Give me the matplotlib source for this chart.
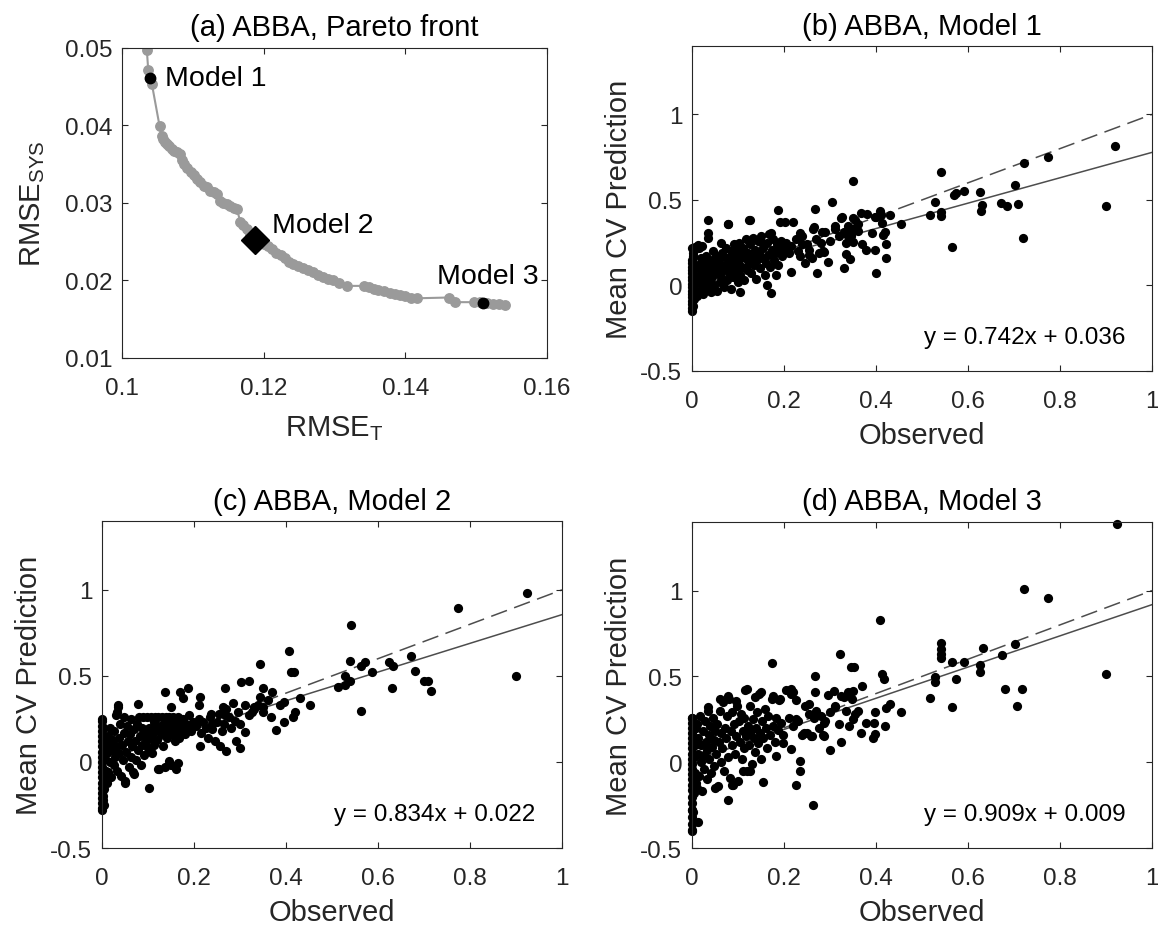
import matplotlib
matplotlib.use("Agg")
import matplotlib.pyplot as plt
import numpy as np

plt.rcParams.update({
    "font.family": ["Liberation Sans", "DejaVu Sans"],
    "mathtext.fontset": "custom",
    "mathtext.rm": "Liberation Sans",
    "mathtext.it": "Liberation Sans:italic",
    "mathtext.bf": "Liberation Sans:bold",
})

# ---------------- data ----------------
# (a) Pareto front
rmse_t = [0.1035, 0.1037, 0.1040, 0.1042, 0.1053, 0.1056, 0.1058, 0.1061, 0.1063,
          0.1066, 0.1070, 0.1074, 0.1078, 0.1082, 0.1085, 0.1087, 0.1092, 0.1098,
          0.1102, 0.1106, 0.1110, 0.1115, 0.1120, 0.1124, 0.1130, 0.1134, 0.1138,
          0.1143, 0.1148, 0.1153, 0.1158, 0.1162, 0.1167, 0.1171, 0.1176, 0.1181,
          0.1188, 0.1194, 0.1200, 0.1206, 0.1212, 0.1218, 0.1224, 0.1230, 0.1236,
          0.1242, 0.1249, 0.1256, 0.1263, 0.1270, 0.1277, 0.1284, 0.1291, 0.1298,
          0.1306, 0.1317, 0.1342, 0.1348, 0.1356, 0.1362, 0.1370, 0.1378, 0.1386,
          0.1393, 0.1400, 0.1408, 0.1416, 0.1461, 0.1470, 0.1497, 0.1505, 0.1515,
          0.1524, 0.1532, 0.1541]
rmse_sys = [0.0497, 0.0471, 0.0461, 0.0454, 0.0399, 0.0386, 0.0383, 0.0379, 0.0376,
            0.0373, 0.0370, 0.0367, 0.0366, 0.0363, 0.0355, 0.0350, 0.0345, 0.0340,
            0.0336, 0.0331, 0.0327, 0.0322, 0.0320, 0.0316, 0.0314, 0.0311, 0.0303,
            0.0300, 0.0299, 0.0296, 0.0294, 0.0292, 0.0276, 0.0271, 0.0266, 0.0259,
            0.0252, 0.0250, 0.0247, 0.0245, 0.0240, 0.0236, 0.0233, 0.0229, 0.0224,
            0.0221, 0.0219, 0.0216, 0.0214, 0.0211, 0.0207, 0.0204, 0.0202, 0.0200,
            0.0197, 0.0193, 0.0193, 0.0191, 0.0189, 0.0188, 0.0186, 0.0184, 0.0183,
            0.0181, 0.0180, 0.0178, 0.0177, 0.0178, 0.0172, 0.0172, 0.0172, 0.0171,
            0.0170, 0.0169, 0.0168]
model_names = ["Model 1", "Model 2", "Model 3"]
model_t = [0.1040, 0.1188, 0.1510]
model_sys = [0.0461, 0.0252, 0.0171]

# (b)-(d) fits
slopes = [0.742, 0.834, 0.909]
intercepts = [0.036, 0.022, 0.009]
titles = ["(b) ABBA, Model 1", "(c) ABBA, Model 2", "(d) ABBA, Model 3"]

# (b) Model 1: observed vs mean CV prediction
outer_b = [(0.92, 0.814), (0.90, 0.467), (0.774, 0.749), (0.722, 0.716), (0.703, 0.588),
           (0.708, 0.476), (0.720, 0.280), (0.671, 0.480), (0.684, 0.467), (0.626, 0.545),
           (0.631, 0.471), (0.629, 0.437), (0.591, 0.553), (0.569, 0.529), (0.575, 0.539),
           (0.566, 0.225), (0.542, 0.663), (0.529, 0.490), (0.518, 0.412), (0.542, 0.431),
           (0.542, 0.408), (0.454, 0.357), (0.431, 0.412), (0.409, 0.437), (0.397, 0.402),
           (0.415, 0.294), (0.421, 0.245), (0.421, 0.161), (0.399, 0.075), (0.397, 0.206),
           (0.379, 0.206), (0.391, 0.304), (0.413, 0.363), (0.349, 0.608), (0.367, 0.422),
           (0.351, 0.392), (0.347, 0.314), (0.351, 0.255), (0.343, 0.157), (0.331, 0.102),
           (0.335, 0.186), (0.323, 0.392), (0.311, 0.333), (0.305, 0.486), (0.268, 0.445),
           (0.263, 0.333), (0.282, 0.314), (0.287, 0.196), (0.271, 0.075), (0.255, 0.176),
           (0.239, 0.245), (0.235, 0.304), (0.215, 0.078), (0.203, 0.373), (0.191, 0.373),
           (0.188, 0.441), (0.183, 0.059), (0.171, -0.043), (0.163, 0.0), (0.171, 0.304),
           (0.151, 0.255), (0.123, 0.382), (0.034, 0.382), (0.079, 0.357), (0.034, 0.304),
           (0.0, 0.22), (0.006, 0.225), (0.014, 0.235), (0.104, -0.039), (0.35, 0.33),
           (0.36, 0.36), (0.34, 0.29), (0.40, 0.40), (0.41, 0.41), (0.42, 0.31),
           (0.37, 0.24), (0.38, 0.42)]
core_b = [(0, -0.15), (0, -0.13), (0, -0.11), (0, -0.09), (0, -0.07), (0, -0.05), (0, -0.03),
          (0, -0.01), (0, 0.01), (0, 0.03), (0, 0.05), (0, 0.07), (0, 0.09), (0, 0.11),
          (0, 0.13), (0, 0.15), (0.002, -0.12), (0.002, 0.17), (0.003, 0.19), (0.004, -0.08),
          (0.005, 0.21), (0.005, 0.0), (0.006, 0.04), (0.007, 0.22), (0.008, -0.04), (0.008, 0.1),
          (0.010, -0.06), (0.012, 0.02), (0.013, 0.12), (0.015, 0.22), (0.016, -0.03),
          (0.018, 0.06), (0.020, 0.16), (0.021, 0.0), (0.022, 0.23), (0.024, -0.05),
          (0.025, 0.09), (0.027, 0.13), (0.028, 0.04), (0.030, -0.02), (0.031, 0.17),
          (0.033, 0.07), (0.035, 0.28), (0.036, 0.01), (0.038, 0.11), (0.040, 0.15),
          (0.041, -0.04), (0.043, 0.05), (0.045, 0.2), (0.046, 0.09), (0.048, 0.0),
          (0.050, 0.13), (0.052, 0.17), (0.054, -0.03), (0.055, 0.07), (0.057, 0.11),
          (0.059, 0.15), (0.060, 0.02), (0.062, 0.25), (0.064, 0.05), (0.066, 0.19),
          (0.067, 0.09), (0.069, -0.01), (0.071, 0.12), (0.073, 0.22), (0.075, 0.03),
          (0.077, 0.16), (0.079, 0.36), (0.080, 0.07), (0.082, 0.1), (0.084, 0.2),
          (0.085, -0.02), (0.087, 0.13), (0.089, 0.05), (0.091, 0.24), (0.093, 0.17),
          (0.095, 0.09), (0.097, 0.21), (0.099, 0.02), (0.101, 0.14), (0.103, 0.25),
          (0.105, 0.06), (0.107, 0.18), (0.109, 0.11), (0.111, 0.22), (0.113, 0.03),
          (0.115, 0.16), (0.117, 0.27), (0.119, 0.09), (0.121, 0.19), (0.123, 0.13),
          (0.125, 0.38), (0.127, 0.24), (0.129, 0.07), (0.131, 0.17), (0.133, 0.28),
          (0.135, 0.12), (0.137, 0.21), (0.139, 0.04), (0.141, 0.15), (0.143, 0.26),
          (0.145, 0.19), (0.147, 0.1), (0.150, 0.29), (0.152, 0.16), (0.155, 0.22),
          (0.158, 0.06), (0.160, 0.13), (0.163, 0.25), (0.166, 0.18), (0.168, 0.3),
          (0.170, 0.11), (0.173, 0.21), (0.176, 0.27), (0.178, 0.15), (0.181, 0.19),
          (0.184, 0.24), (0.187, 0.12), (0.190, 0.2), (0.193, 0.26), (0.196, 0.17),
          (0.199, 0.22), (0.205, 0.25), (0.21, 0.19), (0.215, 0.23), (0.22, 0.37),
          (0.225, 0.27), (0.23, 0.2), (0.235, 0.17), (0.24, 0.29), (0.245, 0.13),
          (0.25, 0.24), (0.255, 0.21), (0.26, 0.16), (0.265, 0.34), (0.27, 0.27),
          (0.275, 0.19), (0.28, 0.25), (0.285, 0.2), (0.29, 0.31), (0.295, 0.14),
          (0.3, 0.26), (0.31, 0.35), (0.32, 0.29), (0.325, 0.4), (0.33, 0.31),
          (0.335, 0.25), (0.34, 0.35), (0.345, 0.29), (0.355, 0.38), (0.36, 0.32)]

# (c) Model 2
outer_c = [(0.924, 0.984), (0.900, 0.501), (0.773, 0.896), (0.672, 0.613), (0.680, 0.530),
           (0.700, 0.472), (0.708, 0.470), (0.716, 0.413), (0.624, 0.579), (0.632, 0.558),
           (0.630, 0.427), (0.588, 0.524), (0.572, 0.579), (0.564, 0.560), (0.564, 0.294),
           (0.541, 0.795), (0.540, 0.589), (0.540, 0.470), (0.528, 0.501), (0.514, 0.436),
           (0.528, 0.446), (0.453, 0.329), (0.431, 0.372), (0.419, 0.290), (0.415, 0.260),
           (0.411, 0.524), (0.418, 0.524), (0.407, 0.642), (0.395, 0.348), (0.395, 0.231),
           (0.387, 0.329), (0.378, 0.188), (0.369, 0.407), (0.367, 0.260), (0.343, 0.567),
           (0.349, 0.427), (0.343, 0.378), (0.349, 0.319), (0.331, 0.319), (0.327, 0.290),
           (0.311, 0.176), (0.319, 0.470), (0.303, 0.462), (0.299, 0.084), (0.291, 0.123),
           (0.267, 0.427), (0.267, 0.270), (0.263, 0.319), (0.257, 0.090), (0.270, 0.065),
           (0.236, 0.280), (0.239, 0.221), (0.214, 0.378), (0.210, 0.329), (0.214, 0.090),
           (0.186, 0.427), (0.170, 0.407), (0.177, 0.372), (0.150, 0.319), (0.138, 0.407),
           (0.166, -0.004), (0.161, -0.043), (0.146, 0.006), (0.102, -0.151), (0.122, -0.043),
           (0.078, 0.339), (0.034, 0.329), (0.032, 0.290), (0.050, -0.121), (0.070, -0.072),
           (0.0, -0.278), (0.0, 0.25)]
core_c = [(0, -0.27), (0, -0.24), (0, -0.21), (0, -0.18), (0, -0.15), (0, -0.12), (0, -0.09),
          (0, -0.06), (0, -0.03), (0, 0.0), (0, 0.03), (0, 0.06), (0, 0.09), (0, 0.12),
          (0, 0.15), (0, 0.18), (0, 0.21), (0, 0.24), (0.002, -0.22), (0.003, -0.2),
          (0.004, -0.1), (0.005, -0.16), (0.006, 0.08), (0.007, 0.02), (0.008, -0.05),
          (0.008, 0.13), (0.003, 0.2), (0.005, -0.25), (0.010, -0.12), (0.011, 0.05),
          (0.012, 0.15), (0.014, -0.06), (0.015, 0.1), (0.017, 0.0), (0.018, 0.2),
          (0.02, -0.09), (0.021, 0.07), (0.023, 0.13), (0.025, -0.02), (0.026, 0.18),
          (0.028, 0.03), (0.03, 0.27), (0.031, 0.09), (0.033, -0.05), (0.035, 0.32),
          (0.036, 0.14), (0.038, 0.05), (0.04, 0.22), (0.041, -0.08), (0.043, 0.1),
          (0.045, 0.01), (0.047, 0.17), (0.048, 0.26), (0.05, -0.11), (0.052, 0.06),
          (0.054, 0.21), (0.056, 0.12), (0.058, -0.03), (0.06, 0.16), (0.062, 0.03),
          (0.064, 0.25), (0.066, 0.09), (0.068, -0.06), (0.07, 0.19), (0.072, 0.12),
          (0.074, 0.01), (0.076, 0.22), (0.078, 0.07), (0.08, 0.26), (0.082, 0.15),
          (0.084, -0.02), (0.086, 0.1), (0.088, 0.2), (0.09, 0.26), (0.092, 0.04),
          (0.094, 0.17), (0.096, 0.12), (0.098, 0.26), (0.1, 0.08), (0.102, 0.2),
          (0.104, 0.14), (0.106, 0.26), (0.108, 0.05), (0.11, 0.17), (0.112, 0.23),
          (0.114, 0.1), (0.116, 0.26), (0.118, 0.19), (0.12, 0.13), (0.122, 0.26),
          (0.124, -0.04), (0.126, 0.21), (0.128, 0.16), (0.13, 0.26), (0.132, 0.09),
          (0.134, 0.22), (0.136, -0.03), (0.138, 0.18), (0.14, 0.26), (0.142, 0.14),
          (0.144, 0.23), (0.146, 0.26), (0.148, 0.19), (0.15, -0.02), (0.152, 0.16),
          (0.154, 0.26), (0.156, 0.21), (0.158, 0.12), (0.16, 0.24), (0.162, 0.18),
          (0.165, 0.26), (0.168, 0.14), (0.17, 0.22), (0.173, 0.19), (0.176, 0.25),
          (0.18, 0.16), (0.183, 0.22), (0.186, 0.2), (0.19, 0.27), (0.194, 0.18),
          (0.198, 0.23), (0.205, 0.21), (0.21, 0.25), (0.215, 0.17), (0.22, 0.23),
          (0.225, 0.2), (0.23, 0.14), (0.235, 0.26), (0.24, 0.19), (0.245, 0.12),
          (0.25, 0.23), (0.255, 0.28), (0.26, 0.18), (0.265, 0.22), (0.27, 0.31),
          (0.275, 0.26), (0.28, 0.2), (0.285, 0.34), (0.29, 0.24), (0.295, 0.29),
          (0.3, 0.22), (0.31, 0.33), (0.32, 0.27), (0.33, 0.31), (0.34, 0.33),
          (0.35, 0.29), (0.36, 0.36)]

# (d) Model 3
outer_d = [(0.924, 1.386), (0.900, 0.515), (0.722, 1.008), (0.774, 0.955), (0.702, 0.691),
           (0.673, 0.622), (0.681, 0.427), (0.718, 0.427), (0.706, 0.329), (0.633, 0.665),
           (0.627, 0.564), (0.626, 0.528), (0.591, 0.583), (0.566, 0.583), (0.574, 0.485),
           (0.566, 0.319), (0.542, 0.697), (0.542, 0.661), (0.542, 0.632), (0.542, 0.607),
           (0.529, 0.495), (0.529, 0.470), (0.518, 0.372), (0.455, 0.294), (0.431, 0.339),
           (0.421, 0.313), (0.419, 0.211), (0.409, 0.828), (0.413, 0.515), (0.417, 0.485),
           (0.397, 0.290), (0.395, 0.231), (0.397, 0.162), (0.393, 0.143), (0.379, 0.231),
           (0.367, 0.172), (0.369, 0.446), (0.351, 0.417), (0.353, 0.554), (0.345, 0.554),
           (0.347, 0.368), (0.355, 0.280), (0.341, 0.211), (0.321, 0.632), (0.323, 0.387),
           (0.311, 0.319), (0.309, 0.417), (0.323, 0.117), (0.301, 0.074), (0.287, 0.231),
           (0.287, 0.153), (0.267, 0.501), (0.267, 0.407), (0.255, 0.339), (0.259, 0.153),
           (0.243, 0.172), (0.227, 0.250), (0.215, 0.427), (0.219, 0.407), (0.191, 0.368),
           (0.173, 0.579), (0.175, 0.384), (0.197, 0.113), (0.215, 0.078), (0.235, 0.006),
           (0.235, -0.053), (0.227, -0.131), (0.263, -0.252), (0.155, -0.117), (0.183, 0.035),
           (0.079, -0.219), (0.088, -0.131), (0.050, -0.151), (0.013, -0.346), (0.0, -0.395),
           (0.0, -0.278), (0.119, 0.427), (0.151, 0.407), (0.079, 0.387), (0.061, 0.368),
           (0.034, 0.319), (0.0, 0.260), (0.095, 0.354), (0.127, -0.053), (0.111, -0.053)]
core_d = [(0, -0.4), (0, -0.36), (0, -0.32), (0, -0.28), (0, -0.24), (0, -0.2), (0, -0.16),
          (0, -0.13), (0, -0.1), (0, -0.07), (0, -0.04), (0, -0.01), (0, 0.02), (0, 0.05),
          (0, 0.08), (0, 0.11), (0, 0.14), (0, 0.17), (0, 0.2), (0, 0.23), (0, 0.26),
          (0.003, -0.29), (0.005, -0.18), (0.006, 0.1), (0.007, -0.06), (0.008, 0.2),
          (0.004, 0.03), (0.009, -0.12), (0.01, 0.22), (0.011, -0.15), (0.013, 0.05),
          (0.014, 0.14), (0.016, -0.08), (0.017, 0.27), (0.019, 0.0), (0.02, 0.1),
          (0.022, -0.17), (0.023, 0.18), (0.025, 0.04), (0.027, -0.04), (0.028, 0.24),
          (0.03, 0.12), (0.032, 0.07), (0.033, -0.1), (0.035, 0.3), (0.036, 0.16),
          (0.038, 0.02), (0.04, 0.21), (0.042, -0.06), (0.043, 0.09), (0.045, 0.26),
          (0.047, 0.13), (0.048, -0.02), (0.05, 0.18), (0.052, 0.05), (0.054, 0.22),
          (0.056, -0.14), (0.058, 0.12), (0.06, 0.3), (0.062, 0.0), (0.064, 0.17),
          (0.066, 0.08), (0.068, 0.35), (0.07, -0.05), (0.072, 0.2), (0.074, 0.14),
          (0.076, 0.27), (0.078, 0.03), (0.08, 0.37), (0.082, -0.09), (0.084, 0.18),
          (0.086, 0.1), (0.088, 0.29), (0.09, -0.13), (0.092, 0.22), (0.094, 0.05),
          (0.096, 0.15), (0.098, 0.33), (0.1, -0.11), (0.102, 0.24), (0.104, 0.12),
          (0.106, 0.28), (0.108, 0.02), (0.11, 0.18), (0.112, 0.08), (0.114, 0.26),
          (0.116, 0.42), (0.118, 0.15), (0.12, -0.05), (0.122, 0.21), (0.124, 0.1),
          (0.126, 0.33), (0.128, 0.18), (0.13, -0.01), (0.132, 0.25), (0.134, 0.14),
          (0.136, 0.38), (0.138, 0.06), (0.14, 0.2), (0.142, 0.29), (0.144, 0.11),
          (0.146, 0.4), (0.148, 0.17), (0.15, 0.02), (0.152, 0.24), (0.155, 0.14),
          (0.158, 0.31), (0.16, 0.2), (0.163, 0.08), (0.166, 0.27), (0.17, 0.16),
          (0.173, 0.37), (0.176, 0.21), (0.18, 0.12), (0.183, 0.26), (0.186, 0.19),
          (0.19, 0.36), (0.194, 0.23), (0.198, 0.16), (0.205, 0.42), (0.21, 0.26),
          (0.215, 0.4), (0.22, 0.21), (0.225, 0.36), (0.23, 0.24), (0.24, 0.16),
          (0.245, 0.33), (0.25, 0.17), (0.255, 0.28), (0.26, 0.15), (0.265, 0.26),
          (0.27, 0.3), (0.275, 0.2), (0.28, 0.27), (0.285, 0.16), (0.29, 0.24),
          (0.295, 0.39), (0.3, 0.29), (0.31, 0.33), (0.32, 0.22), (0.33, 0.38),
          (0.335, 0.3), (0.34, 0.41), (0.35, 0.25), (0.36, 0.3)]

panels = [outer_b + core_b, outer_c + core_c, outer_d + core_d]

# ---------------- drawing ----------------
AXC = "#262626"
TICK_FS = 17.5
LAB_FS = 21
TITLE_FS = 21


def style(ax):
    for s in ax.spines.values():
        s.set_color(AXC)
        s.set_linewidth(0.8)
    ax.tick_params(direction="in", top=True, right=True, length=4, width=0.8,
                   color=AXC, labelcolor=AXC, labelsize=TICK_FS)
    ax.tick_params(axis="x", pad=14)
    ax.tick_params(axis="y", pad=7)


fig = plt.figure(figsize=(11.58, 9.29), dpi=100)

# (a)
ax = fig.add_axes([0.1054, 0.6136, 0.3670, 0.3337])
ax.plot(rmse_t, rmse_sys, "-o", color="#9a9a9a", lw=1.5, ms=6.8,
        mfc="#9a9a9a", mec="#9a9a9a", zorder=2)
ax.plot(model_t[0], model_sys[0], "o", color="black", ms=7.5, zorder=3)
ax.plot(model_t[1], model_sys[1], "D", color="black", ms=14, zorder=3)
ax.plot(model_t[2], model_sys[2], "o", color="black", ms=7.5, zorder=3)
label_pos = [(0.1061, 0.0461), (0.1211, 0.0271), (0.1445, 0.0206)]
for name, (tx, ty) in zip(model_names, label_pos):
    ax.text(tx, ty, name, fontsize=20.5, ha="left", va="center", color="black")
ax.set_xlim(0.1, 0.16)
ax.set_ylim(0.01, 0.05)
ax.set_xticks([0.1, 0.12, 0.14, 0.16])
ax.set_xticklabels(["0.1", "0.12", "0.14", "0.16"])
ax.set_yticks([0.01, 0.02, 0.03, 0.04, 0.05])
ax.set_yticklabels(["0.01", "0.02", "0.03", "0.04", "0.05"])
style(ax)
ax.set_xlabel(r"RMSE$_{\mathrm{T}}$", fontsize=LAB_FS, color=AXC, labelpad=10)
ax.set_ylabel(r"RMSE$_{\mathrm{SYS}}$", fontsize=LAB_FS, color=AXC, labelpad=13)
ax.set_title("(a) ABBA, Pareto front", fontsize=TITLE_FS, pad=9)

# (b)-(d)
rects = [[0.5976, 0.5996, 0.3972, 0.3498],
         [0.0881, 0.0861, 0.3972, 0.3520],
         [0.5976, 0.0861, 0.3972, 0.3510]]
xline = np.array([0.0, 1.0])
for rect, pts, a, b, title in zip(rects, panels, slopes, intercepts, titles):
    ax = fig.add_axes(rect)
    obs = [p[0] for p in pts]
    pred = [p[1] for p in pts]
    ax.plot(xline, xline, color="#4d4d4d", lw=1.1, dashes=(11, 5), zorder=1)
    ax.plot(xline, a * xline + b, color="#4d4d4d", lw=1.1, zorder=1)
    ax.scatter(obs, pred, s=44, color="black", linewidths=0, zorder=2, clip_on=False)
    ax.text(0.942, 0.105, "y = %.3fx + %.3f" % (a, b), transform=ax.transAxes,
            ha="right", va="center", fontsize=17.5, color="black")
    ax.set_xlim(0, 1)
    ax.set_ylim(-0.5, 1.4)
    ax.set_xticks([0, 0.2, 0.4, 0.6, 0.8, 1.0])
    ax.set_xticklabels(["0", "0.2", "0.4", "0.6", "0.8", "1"])
    ax.set_yticks([-0.5, 0, 0.5, 1.0])
    ax.set_yticklabels(["-0.5", "0", "0.5", "1"])
    style(ax)
    ax.set_xlabel("Observed", fontsize=LAB_FS, color=AXC, labelpad=6)
    ax.set_ylabel("Mean CV Prediction", fontsize=LAB_FS, color=AXC, labelpad=5)
    ax.set_title(title, fontsize=TITLE_FS, pad=9)

fig.savefig("out.png", dpi=100)
